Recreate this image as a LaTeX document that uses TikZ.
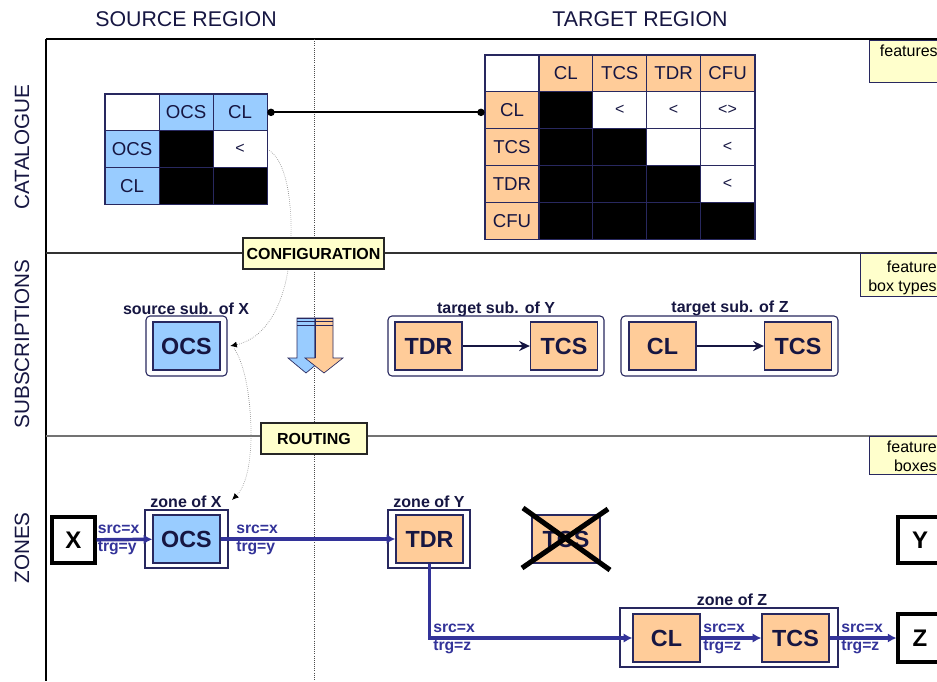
\documentclass[tikz,border=0pt]{standalone}
\usepackage{fontspec}
\setmainfont{Liberation Sans}
\usetikzlibrary{arrows.meta}
\definecolor{navy}{RGB}{22,22,66}
\definecolor{boxline}{RGB}{40,40,95}
\definecolor{srcblue}{RGB}{153,204,255}
\definecolor{trgorange}{RGB}{255,204,153}
\definecolor{notefill}{RGB}{255,255,204}
\definecolor{route}{RGB}{51,51,153}
\newcommand\lsym{\fontsize{12}{13}\selectfont}
\begin{document}
\begin{tikzpicture}[x=0.75pt,y=-0.75pt,
  title/.style={font=\fontsize{16}{18}\selectfont, text=navy},
  rowlabel/.style={font=\fontsize{15.5}{18}\selectfont, text=navy, rotate=90},
  cell/.style={draw=boxline, line width=0.6pt, minimum width=40.4pt, minimum height=27.55pt, inner sep=0pt, font=\fontsize{14}{16}\selectfont, text=navy},
  inbox/.style={draw=boxline, line width=1pt, minimum width=50.25pt, minimum height=36pt, inner sep=0pt, font=\fontsize{17.5}{20}\selectfont\bfseries, text=navy},
  subbox/.style={draw=boxline, line width=0.8pt, rounded corners=3pt, fill=white, inner sep=0pt, minimum height=45pt},
  zonebox/.style={draw=boxline, line width=0.8pt, fill=white, inner sep=0pt},
  term/.style={draw=black, line width=2.3pt, fill=white, inner sep=0pt, font=\fontsize{18}{20}\selectfont\bfseries},
  lbl/.style={font=\fontsize{12}{14}\selectfont\bfseries, text=navy, inner sep=0pt},
  rl/.style={font=\fontsize{11.8}{13.5}\selectfont\bfseries, text=route, anchor=west, align=left, inner sep=0pt},
  stagebox/.style={fill=notefill, draw=black!85, line width=0.9pt, inner sep=0pt, minimum height=23.25pt, font=\fontsize{12}{14}\selectfont\bfseries},
  notebox/.style={fill=notefill, draw=boxline, line width=0.6pt, inner sep=0pt, anchor=north west, minimum width=60pt},
  notetext/.style={font=\fontsize{12}{14.5}\selectfont, align=right, anchor=east, inner sep=0pt},
  routearrow/.style={route, line width=2.6pt, -{Latex[length=6.5pt,width=7pt]}},
  subarrow/.style={navy, line width=1.5pt, -{Stealth[length=8pt,width=7.5pt]}},
  guide/.style={densely dotted, black!45, line width=0.5pt, -{Latex[length=5pt,width=4.5pt,color=black]}}
]
\useasboundingbox (0,0) rectangle (937,681);
\clip (0,0) rectangle (937,681);
\fill[white] (0,0) rectangle (937,681);

% frame
\draw[black, line width=0.9pt] (46,39) -- (937,39);
\draw[black, line width=0.9pt] (46,39) -- (46,681);
\draw[black!80, line width=0.8pt] (46,253) -- (937,253);
\draw[black!55, line width=0.8pt] (46,436) -- (937,436);
\draw[densely dotted, black!70, line width=0.6pt] (314,39) -- (314,681);

% titles
\node[title] (tsrc) at (186,19) {SOURCE REGION};
\node[title] (ttrg) at (640,19) {TARGET REGION};
\node[rowlabel] (lcat) at (22,147) {CATALOGUE};
\node[rowlabel] (lsub) at (22,344) {SUBSCRIPTIONS};
\node[rowlabel] (lzon) at (22,548) {ZONES};

% feature notes
\node[notebox, minimum height=31.5pt] (n1) at (869,40) {};
\node[notetext] (n1t) at (938,51) {features};
\node[notebox, minimum height=32.25pt, minimum width=70pt] (n2) at (860,253) {};
\node[notetext] (n2t) at (937,278) {feature\\box types};
\node[notebox, minimum height=28.5pt] (n3) at (869,436) {};
\node[notetext] (n3t) at (937,456) {feature\\boxes};

% source matrix
\foreach \r/\c/\f/\t in {0/0/white/{},0/1/srcblue/OCS,0/2/srcblue/CL,
  1/0/srcblue/OCS,1/1/black/{},1/2/white/{\lsym<},
  2/0/srcblue/CL,2/1/black/{},2/2/black/{}}
  \node[cell, fill=\f] (s\r\c) at ({105+54*\c+27},{94+36.7*\r+18.35}) {\t};
\draw[boxline, line width=1.2pt] (s00.north west) rectangle (s22.south east);

% target matrix
\foreach \r/\c/\f/\t in {0/0/white/{},0/1/trgorange/CL,0/2/trgorange/TCS,0/3/trgorange/TDR,0/4/trgorange/CFU,
  1/0/trgorange/CL,1/1/black/{},1/2/white/{\lsym<},1/3/white/{\lsym<},1/4/white/{\lsym<>},
  2/0/trgorange/TCS,2/1/black/{},2/2/black/{},2/3/white/{},2/4/white/{\lsym<},
  3/0/trgorange/TDR,3/1/black/{},3/2/black/{},3/3/black/{},3/4/white/{\lsym<},
  4/0/trgorange/CFU,4/1/black/{},4/2/black/{},4/3/black/{},4/4/black/{}}
  \node[cell, fill=\f] (t\r\c) at ({485+53.9*\c+26.95},{55+36.8*\r+18.4}) {\t};
\draw[boxline, line width=1.2pt] (t00.north west) rectangle (t44.south east);

% catalogue connector
\draw[black, line width=1.5pt, {Circle[length=5.5pt]}-{Circle[length=5.5pt]}] (s02.east) -- (s02.east -| t10.west);

% subscriptions
\node[lbl] (lsx) at (186,309) {source sub. of X};
\node[subbox, minimum width=60.75pt] (subx) at (186.5,346) {};
\node[inbox, fill=srcblue] (sx1) at (186.5,346) {OCS};

\node[lbl] (lsy) at (496,309) {target sub. of Y};
\node[subbox, minimum width=162pt] (suby) at (496,346) {};
\node[inbox, fill=trgorange] (sy1) at (428.5,346) {TDR};
\node[inbox, fill=trgorange] (sy2) at (564,346) {TCS};
\draw[subarrow] (sy1) -- (sy2);

\node[lbl] (lsz) at (730,308) {target sub. of Z};
\node[subbox, minimum width=162.75pt] (subz) at (729.5,346) {};
\node[inbox, fill=trgorange] (sz1) at (662.5,346) {CL};
\node[inbox, fill=trgorange] (sz2) at (798,346) {TCS};
\draw[subarrow] (sz1) -- (sz2);

% configuration arrows (blue and orange)
\draw[boxline, line width=0.5pt, fill=srcblue] (297,318) -- (315,318) -- (315,358) -- (324,358) -- (306,373) -- (288,358) -- (297,358) -- cycle;
\draw[boxline, line width=0.5pt, fill=trgorange] (315,318) -- (333,318) -- (333,358) -- (343,358) -- (324,373) -- (305,358) -- (315,358) -- cycle;
\draw[boxline, line width=0.8pt] (297,318.5) -- (333,318.5);
\draw[boxline, line width=0.8pt] (297,321.5) -- (333,321.5);
\draw[boxline, line width=0.6pt] (297,325.5) -- (333,325.5);
\draw[boxline, line width=0.5pt] (315,318) -- (315,358);

% guide curves
\coordinate (zxarr) at (232,500);
\draw[guide] ([xshift=1.5pt,yshift=-1pt]s12.east) .. controls (291,165) and (294,225) .. (289,262) .. controls (285,300) and (268,338) .. ([xshift=2pt]subx.east);
\draw[guide] ([xshift=5pt,yshift=-2pt]subx.east) .. controls (250,372) and (253,430) .. (250,455) .. controls (248,476) and (243,489) .. (zxarr);

% stage labels
\node[stagebox, minimum width=105.75pt] (config) at (313.5,253.5) {CONFIGURATION};
\node[stagebox, minimum width=79.5pt] (routing) at (314,438.5) {ROUTING};

% zones
\node[term, minimum width=32.25pt, minimum height=34.5pt] (X) at (73.5,540) {X};
\node[lbl] (lzx) at (186,502) {zone of X};
\node[zonebox, minimum width=62.25pt, minimum height=43.5pt] (zx) at (186.5,539) {};
\node[inbox, fill=srcblue] (zx1) at (186.5,539) {OCS};

\node[lbl] (lzy) at (429,502) {zone of Y};
\node[zonebox, minimum width=61.5pt, minimum height=43.5pt] (zy) at (429,539) {};
\node[inbox, fill=trgorange] (zy1) at (429.5,539) {TDR};

\node[inbox, fill=trgorange, minimum width=51pt] (xt) at (566,539) {TCS};
\draw[black, line width=3.8pt] (523,508) -- (610,570);
\draw[black, line width=3.8pt] (608,509) -- (522,568);

\node[term, minimum width=33pt, minimum height=34.5pt] (Y) at (920,540) {Y};

\node[lbl] (lzz) at (732,600) {zone of Z};
\node[zonebox, minimum width=163.5pt, minimum height=44.25pt] (zz) at (729,637.5) {};
\node[inbox, fill=trgorange] (zz1) at (666.5,638) {CL};
\node[inbox, fill=trgorange] (zz2) at (795.5,638) {TCS};
\node[term, minimum width=33pt, minimum height=36pt] (Z) at (920,638) {Z};

% routes
\draw[routearrow] (X) -- (zx1);
\draw[routearrow] (zx1) -- (zy1);
\draw[routearrow] (zy1.south) |- (zz1.west);
\draw[routearrow] (zz1) -- (zz2);
\draw[routearrow] (zz2) -- (Z);

\node[rl] (r1) at (97.5,540) {src=x\\trg=y};
\node[rl] (r2) at (236,540) {src=x\\trg=y};
\node[rl] (r3) at (433,639) {src=x\\trg=z};
\node[rl] (r4) at (703,639) {src=x\\trg=z};
\node[rl] (r5) at (841,639) {src=x\\trg=z};
\end{tikzpicture}
\end{document}
